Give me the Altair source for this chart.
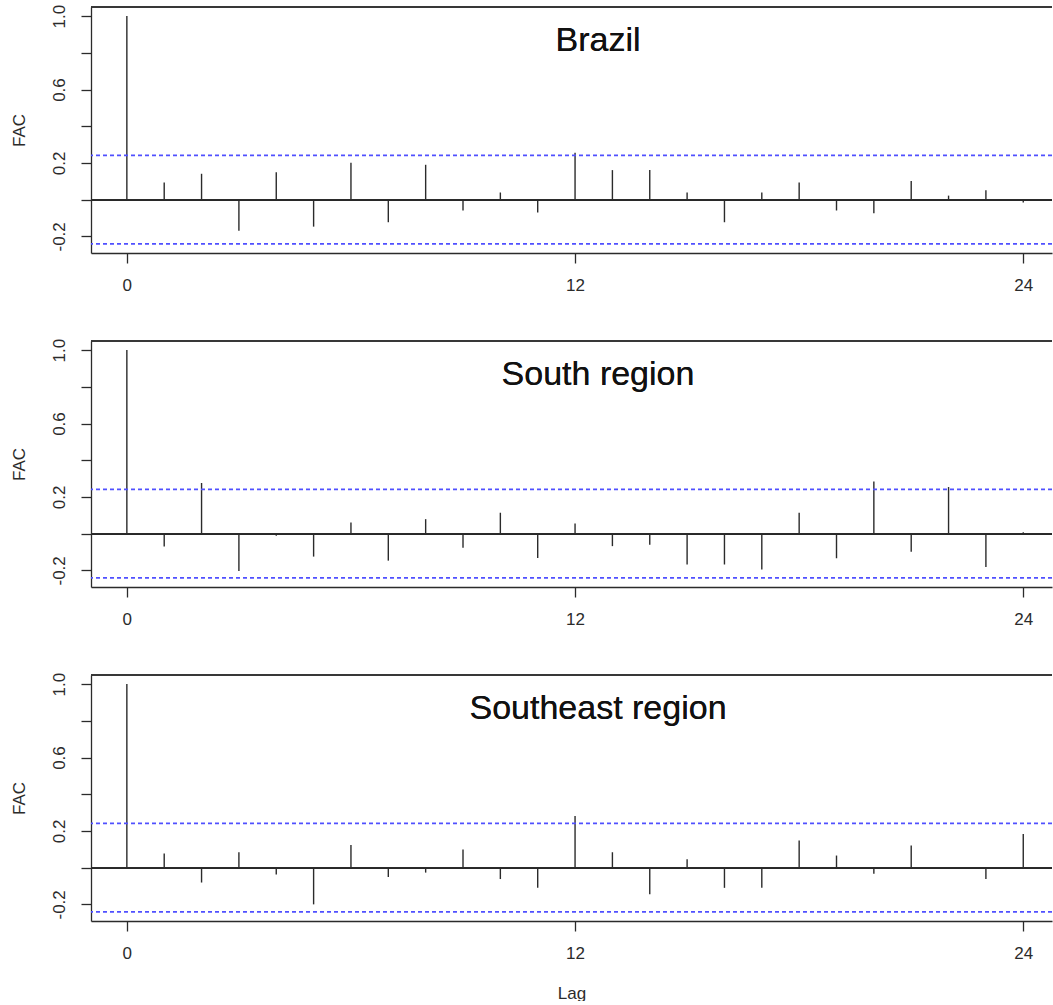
import altair as alt
import pandas as pd

# Sample autocorrelation (FAC) by lag for each series
LAGS = list(range(25))

BRAZIL = [1.0, 0.094, 0.141, -0.169, 0.149, -0.147, 0.201, -0.123, 0.190, -0.059,
          0.039, -0.070, 0.255, 0.161, 0.161, 0.039, -0.123, 0.039, 0.094, -0.059,
          -0.074, 0.101, 0.022, 0.051, -0.015]
SOUTH = [1.0, -0.070, 0.276, -0.203, -0.011, -0.125, 0.061, -0.147, 0.079, -0.077,
         0.114, -0.133, 0.055, -0.068, -0.061, -0.168, -0.168, -0.195, 0.114, -0.134,
         0.284, -0.098, 0.254, -0.182, 0.008]
SOUTHEAST = [1.0, 0.077, -0.081, 0.084, -0.037, -0.200, 0.124, -0.051, -0.027, 0.099,
             -0.062, -0.110, 0.281, 0.084, -0.145, 0.046, -0.110, -0.110, 0.148, 0.066,
             -0.033, 0.121, 0.003, -0.062, 0.183]

SERIES = [("Brazil", BRAZIL), ("South region", SOUTH), ("Southeast region", SOUTHEAST)]

CONF_LIMIT = 0.241          # approx. 95% white-noise bounds
Y_TICKS = [-0.2, 0.0, 0.2, 0.4, 0.6, 0.8, 1.0]
X_TICKS = [0, 12, 24]

FONT = "Liberation Sans"
INK = "#2b2b2b"
PANEL_W = 961
PANEL_H = 246
PX_PER_LAG = 37.35

x_scale = alt.Scale(domain=[-0.96, -0.96 + PANEL_W / PX_PER_LAG], nice=False, zero=False)
y_scale = alt.Scale(domain=[-0.2906, 1.0496], nice=False, zero=False)

y_label_expr = "['-0.2', '', '0.2', '', '0.6', '', '1.0'][round((datum.value + 0.2) * 5)]"


def panel(title, values, last):
    df = pd.DataFrame({"lag": LAGS, "acf": values})
    ci = pd.DataFrame({"limit": [CONF_LIMIT, -CONF_LIMIT]})

    x_axis = alt.Axis(
        values=X_TICKS, format="d", tickSize=10, labelPadding=14,
        labelFontSize=17, labelFont=FONT, labelColor=INK,
        domainColor=INK, tickColor=INK, domainWidth=1.3, tickWidth=1.3,
        grid=False, labelFlush=False,
        title="Lag" if last else None, titleFont=FONT, titleFontSize=17,
        titleFontWeight="normal", titleColor=INK, titlePadding=24,
    )
    y_axis = alt.Axis(
        values=Y_TICKS, labelExpr=y_label_expr, labelAngle=270,
        labelAlign="center", labelBaseline="bottom",
        tickSize=10, labelPadding=13, labelFontSize=17, labelFont=FONT,
        labelColor=INK, domainColor=INK, tickColor=INK, domainWidth=1.3,
        tickWidth=1.3, grid=False, labelFlush=False,
        title="FAC", titleFont=FONT, titleFontSize=17, titleFontWeight="normal",
        titleColor=INK, titleAngle=270, titlePadding=22,
    )

    spikes = alt.Chart(df).mark_rule(color=INK, strokeWidth=1.4).encode(
        x=alt.X("lag:Q", scale=x_scale, axis=x_axis),
        y=alt.Y("acf:Q", scale=y_scale, axis=y_axis),
        y2=alt.datum(0),
    )
    zero_line = alt.Chart(df).mark_rule(color=INK, strokeWidth=1.3).encode(
        y=alt.datum(0, scale=y_scale)
    )
    bounds = alt.Chart(ci).mark_rule(
        color="#5050ff", strokeWidth=1.6, strokeDash=[4, 3]
    ).encode(y=alt.Y("limit:Q", scale=y_scale))
    top_edge = alt.Chart(ci).mark_rule(color=INK, strokeWidth=1.3).encode(
        y=alt.value(0)
    )
    label = alt.Chart(ci).mark_text(
        font=FONT, fontSize=34, color="#111", align="center", baseline="alphabetic"
    ).encode(x=alt.value(507), y=alt.value(44), text=alt.value(title))

    return alt.layer(spikes, zero_line, bounds, top_edge, label).properties(
        width=PANEL_W, height=PANEL_H
    )


chart = alt.vconcat(
    *[panel(t, v, i == len(SERIES) - 1) for i, (t, v) in enumerate(SERIES)],
    spacing=88, bounds="flush",
).configure_view(stroke=None).properties(
    padding={"left": 10, "top": 4, "right": 0, "bottom": 0},
    background="white",
)

chart.save("out.html", embed_options={"renderer": "svg", "actions": False})
